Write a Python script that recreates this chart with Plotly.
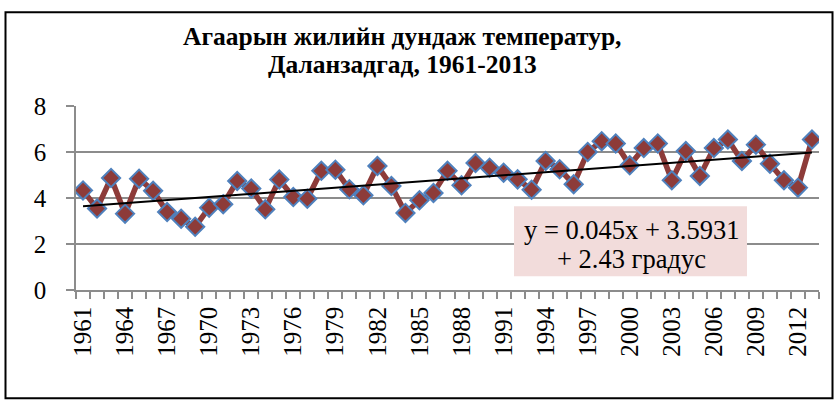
import plotly.graph_objects as go

years = list(range(1961, 2014))
temps = [4.33, 3.54, 4.87, 3.32, 4.84, 4.31, 3.39, 3.10, 2.75, 3.58,
         3.73, 4.74, 4.41, 3.51, 4.80, 4.04, 3.97, 5.18, 5.23, 4.38,
         4.12, 5.39, 4.52, 3.35, 3.90, 4.22, 5.18, 4.55, 5.52, 5.32,
         5.10, 4.81, 4.36, 5.61, 5.25, 4.60, 6.00, 6.47, 6.37, 5.42,
         6.17, 6.37, 4.77, 6.04, 4.96, 6.17, 6.54, 5.61, 6.32, 5.49,
         4.77, 4.45, 6.54]
trend_slope = 0.045
trend_intercept = 3.5931
label_years = years[::3]
y_ticks = [0, 2, 4, 6, 8]
title_lines = ["Агаарын жилийн дундаж температур,", "Даланзадгад, 1961-2013"]
eq_lines = ["y = 0.045x + 3.5931", "+ 2.43 градус"]

W, H = 837, 407
L, R, T, B = 76, 819, 105.7, 289.7
pw, ph = R - L, B - T

def px(x):
    return (x - L) / pw

def py(y):
    return (B - y) / ph

FONT = "Liberation Serif, Times New Roman, serif"
GRID = "#8C8C8C"
FS = 25

trend_x = [years[0], years[-1]]
trend_y = [trend_intercept + trend_slope * 1, trend_intercept + trend_slope * len(years)]

fig = go.Figure()
fig.add_trace(go.Scatter(
    x=years, y=temps, mode="lines+markers",
    line=dict(color="#8D3B39", width=5.5),
    marker=dict(symbol="diamond", size=14, color="#8D3B39",
                line=dict(color="#4F81BD", width=2)),
    showlegend=False, hoverinfo="skip"))
fig.add_trace(go.Scatter(
    x=trend_x, y=trend_y, mode="lines",
    line=dict(color="black", width=2),
    showlegend=False, hoverinfo="skip"))

annotations = []
for txt, yc in zip(title_lines, [36, 64]):
    annotations.append(dict(
        text="<b>" + txt + "</b>", xref="paper", yref="paper",
        x=px(402), y=py(yc), xanchor="center", yanchor="middle",
        showarrow=False, font=dict(family=FONT, size=25.5, color="black")))
for txt, yc in zip(eq_lines, [230, 259]):
    annotations.append(dict(
        text=txt, xref="paper", yref="paper",
        x=px(631), y=py(yc), xanchor="center", yanchor="middle",
        showarrow=False, font=dict(family=FONT, size=26.5, color="black")))

fig.update_layout(
    template="none",
    width=W, height=H,
    margin=dict(l=L, r=W - R, t=T, b=H - B, pad=0, autoexpand=False),
    paper_bgcolor="white", plot_bgcolor="white",
    font=dict(family=FONT, color="black", size=FS),
    xaxis=dict(
        range=[1960.5, 2013.5], tickmode="array", tickvals=label_years,
        ticktext=[str(v) for v in label_years], tickangle=-90,
        ticks="", showgrid=False, zeroline=False, automargin=False,
        showline=True, linecolor=GRID, linewidth=1.5,
        tickfont=dict(family=FONT, size=FS, color="black"),
        ticklabelstandoff=5,
        minor=dict(ticks="outside", ticklen=7, tickcolor=GRID, tickwidth=1.5,
                   tick0=1960.5, dtick=1, showgrid=False),
        fixedrange=True),
    yaxis=dict(
        range=[0, 8], tickmode="array", tickvals=y_ticks,
        showgrid=True, gridcolor=GRID, gridwidth=1.5, zeroline=False,
        automargin=False,
        showline=True, linecolor=GRID, linewidth=1.5,
        ticks="outside", ticklen=8, tickcolor=GRID, tickwidth=1.5,
        tickfont=dict(family=FONT, size=FS, color="black"),
        ticklabelstandoff=15,
        fixedrange=True),
    shapes=[
        dict(type="rect", xref="paper", yref="paper",
             x0=px(5.5), x1=px(832.5), y0=py(398), y1=py(12),
             line=dict(color="black", width=2), fillcolor="rgba(0,0,0,0)",
             layer="below"),
        dict(type="rect", xref="paper", yref="paper",
             x0=px(514), x1=px(747), y0=py(276), y1=py(206),
             line=dict(width=0), fillcolor="#F2DCDB", layer="above"),
    ],
    annotations=annotations,
)

fig.write_html("out.html", config={"displayModeBar": False},
               post_script="document.body.style.margin='0';")
